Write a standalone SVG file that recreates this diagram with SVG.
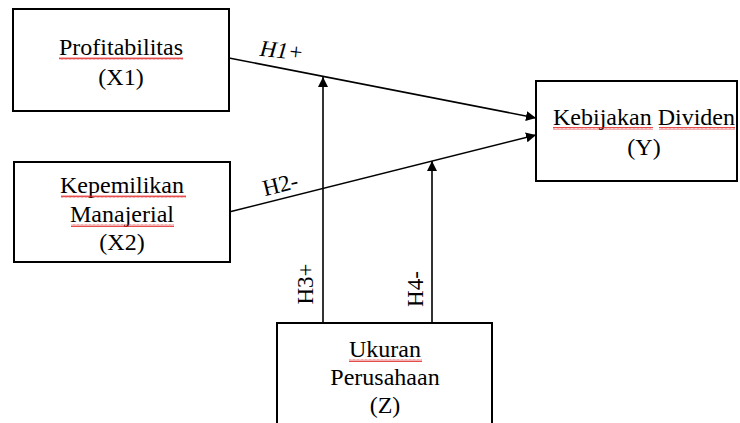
<svg xmlns="http://www.w3.org/2000/svg" width="740" height="423" viewBox="0 0 740 423">
<style>
.box{fill:#fff;stroke:#000;stroke-width:2}
.t{font-family:"Liberation Serif","Times New Roman",serif;font-size:24px;fill:#000;text-anchor:middle}
.lbl{font-family:"Liberation Serif","Times New Roman",serif;font-size:23px;fill:#000;text-anchor:middle}
.con{stroke:#000;stroke-width:1.6;fill:none}
.sq{fill:url(#squig)}
</style>
<defs>
<marker id="arr" viewBox="0 0 10 10" refX="10" refY="5" markerWidth="10" markerHeight="10" markerUnits="userSpaceOnUse" orient="auto">
<path d="M0,0 L10,5 L0,10 Z" fill="#000"/>
</marker>
<pattern id="squig" width="4" height="3" patternUnits="userSpaceOnUse">
<path d="M0,2.5 L1,0.5 L2,2.5 L3,0.5 L4,2.5" stroke="#e02020" stroke-width="0.8" fill="none"/>
</pattern>
</defs>
<rect width="740" height="423" fill="#fff"/>
<g id="connectors">
<line class="con" x1="229" y1="58" x2="536" y2="118" marker-end="url(#arr)"/>
<line class="con" x1="229" y1="212" x2="536" y2="135" marker-end="url(#arr)"/>
<line class="con" x1="323" y1="323" x2="323" y2="77" marker-end="url(#arr)"/>
<line class="con" x1="432" y1="323" x2="432" y2="161" marker-end="url(#arr)"/>
<text class="lbl" font-style="italic" transform="translate(281,58) rotate(6)">H1+</text>
<text class="lbl" transform="translate(282,192) rotate(-14)">H2-</text>
<text class="lbl" transform="translate(313,284) rotate(-90)">H3+</text>
<text class="lbl" transform="translate(423,289) rotate(-90)">H4-</text>
</g>
<g id="profitabilitas">
<rect class="box" x="13" y="9" width="216" height="102"/>
<text class="t" x="121" y="55">Profitabilitas</text>
<rect class="sq" x="59" y="57" width="124" height="3"/>
<text class="t" x="121" y="85">(X1)</text>
</g>
<g id="kepemilikan">
<rect class="box" x="14" y="162" width="216" height="100"/>
<text class="t" x="122" y="193">Kepemilikan</text>
<rect class="sq" x="61" y="195" width="125" height="3"/>
<text class="t" x="122" y="222">Manajerial</text>
<rect class="sq" x="71" y="224" width="103" height="3"/>
<text class="t" x="122" y="250">(X2)</text>
</g>
<g id="kebijakan">
<rect class="box" x="536" y="81" width="201" height="100"/>
<text class="t" x="644" y="125">Kebijakan Dividen</text>
<rect class="sq" x="553" y="127" width="100" height="3"/>
<rect class="sq" x="659" y="127" width="76" height="3"/>
<text class="t" x="644" y="155">(Y)</text>
</g>
<g id="ukuran">
<rect class="box" x="277" y="323" width="215" height="110"/>
<text class="t" x="385" y="357">Ukuran</text>
<rect class="sq" x="349" y="359" width="73" height="3"/>
<text class="t" x="385" y="385">Perusahaan</text>
<text class="t" x="385" y="413">(Z)</text>
</g>
</svg>
